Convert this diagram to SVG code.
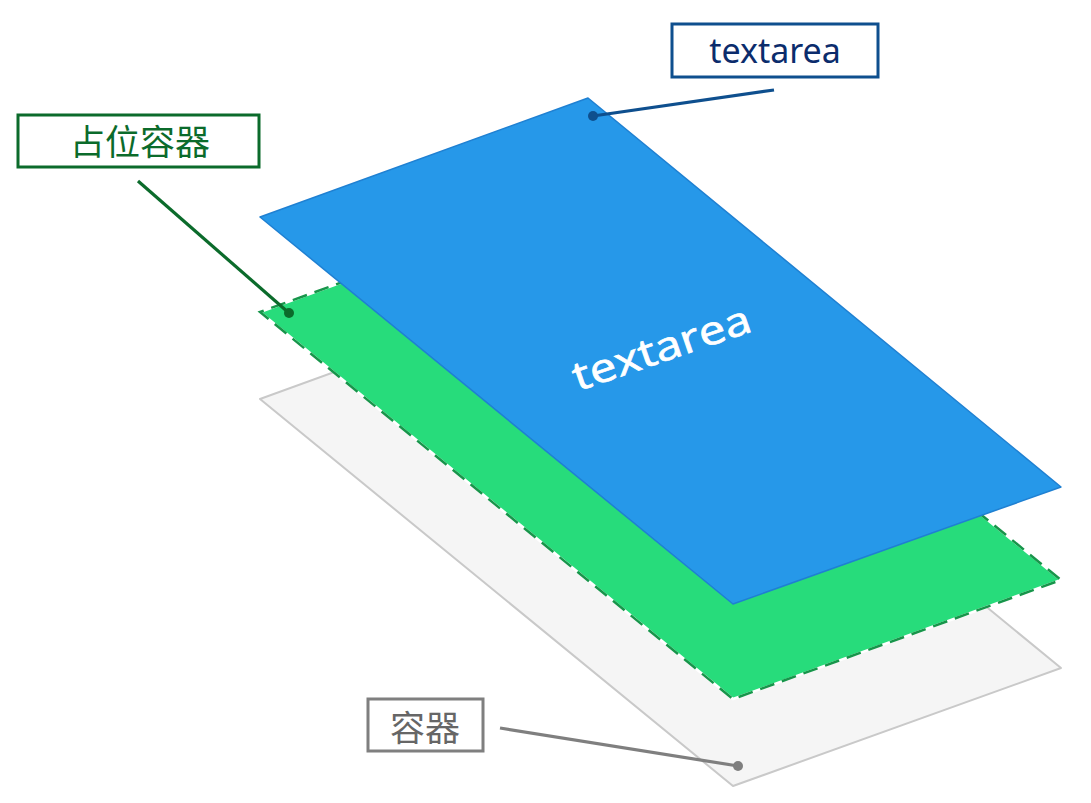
<svg xmlns="http://www.w3.org/2000/svg" width="1091" height="803" viewBox="0 0 1091 803">
  <style>
    .lbl { font-family: "Noto Sans", "Open Sans", "Noto Sans CJK SC", sans-serif; text-anchor: middle; dominant-baseline: central; }
    .box { fill: #ffffff; stroke-width: 3; }
    .lead { stroke-width: 3.2; }
  </style>
  <rect width="1091" height="803" fill="#ffffff"/>
  <g id="container-layer">
    <polygon points="588,280 260,399 733,786 1061,668" fill="#f5f5f5" stroke="#c9c9c9" stroke-width="2" stroke-linejoin="round"/>
  </g>
  <g id="placeholder-layer">
    <polygon points="588,193 260,312 733,699 1061,580" fill="#27dc7b" stroke="#ffffff" stroke-width="2.5"/>
    <polygon points="588,193 260,312 733,699 1061,580" fill="none" stroke="#17954a" stroke-width="2.5" stroke-dasharray="15 8"/>
  </g>
  <g id="textarea-layer">
    <polygon points="588,98 260,217 733,604 1061,487" fill="#2698e9" stroke="#1f80d2" stroke-width="1.5" stroke-linejoin="round"/>
    <text transform="translate(666,361) rotate(-19) scale(1.2,1)" x="0" y="0" font-family="'Open Sans', 'Noto Sans', sans-serif" font-size="40" fill="#ffffff" stroke="#ffffff" stroke-width="0.7" text-anchor="middle">textarea</text>
  </g>
  <g id="connectors">
    <line class="lead" x1="774" y1="90" x2="593" y2="116" stroke="#0e4f8e"/>
    <circle cx="593" cy="116" r="5" fill="#0e4f8e"/>
    <line class="lead" x1="138" y1="181" x2="289" y2="313" stroke="#0b6b2b"/>
    <circle cx="289" cy="313" r="5" fill="#0b6b2b"/>
    <line class="lead" x1="500" y1="728" x2="738" y2="766" stroke="#7f7f7f"/>
    <circle cx="738" cy="766" r="5" fill="#7f7f7f"/>
  </g>
  <g id="label-textarea">
    <rect class="box" x="672" y="24" width="206" height="53" stroke="#0e4f8e"/>
    <text class="lbl" x="775" y="50" font-size="34" fill="#0b2c6c">textarea</text>
  </g>
  <g id="label-placeholder">
    <rect class="box" x="18" y="115" width="241" height="52" stroke="#0b6b2b"/>
    <text class="lbl" x="140" y="141" font-size="35" fill="#0b6b2b">占位容器</text>
  </g>
  <g id="label-container">
    <rect class="box" x="368" y="699" width="115" height="52" stroke="#7f7f7f"/>
    <text class="lbl" x="425" y="727" font-size="35" fill="#666666">容器</text>
  </g>
</svg>
